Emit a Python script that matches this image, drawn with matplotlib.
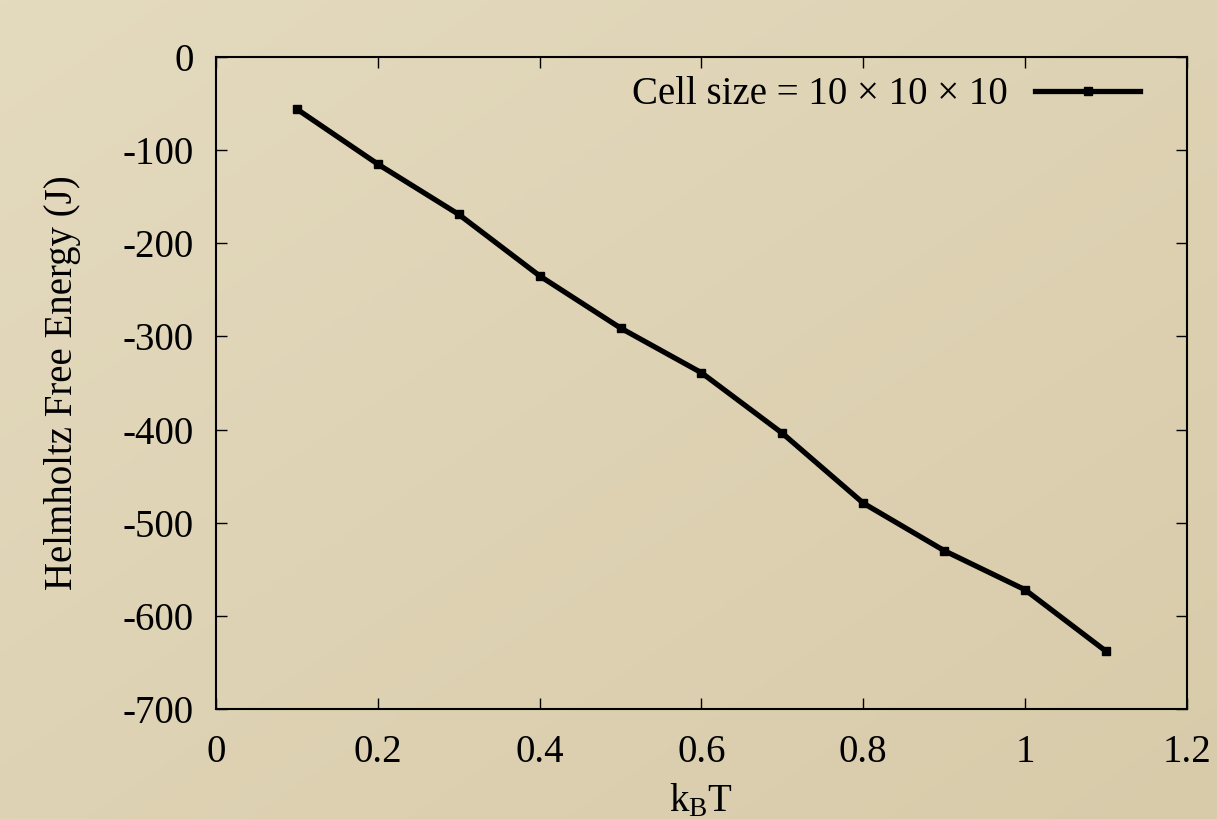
import matplotlib
matplotlib.use("Agg")
import matplotlib.pyplot as plt
import numpy as np

# data
kT = [0.1, 0.2, 0.3, 0.4, 0.5, 0.6, 0.7, 0.8, 0.9, 1.0, 1.1]
free_energy = [-56, -115, -169, -235, -291, -339, -404, -479, -530, -572, -638]
xticks = [0, 0.2, 0.4, 0.6, 0.8, 1, 1.2]
xtick_labels = ["0", "0.2", "0.4", "0.6", "0.8", "1", "1.2"]
yticks = [0, -100, -200, -300, -400, -500, -600, -700]
series_label = "Cell size = 10 \u00d7 10 \u00d7 10"

plt.rcParams["font.family"] = ["Liberation Serif", "DejaVu Serif"]
plt.rcParams["mathtext.fontset"] = "custom"
plt.rcParams["mathtext.rm"] = "Liberation Serif"
plt.rcParams["mathtext.it"] = "Liberation Serif"
plt.rcParams["axes.unicode_minus"] = False

fig = plt.figure(figsize=(12.17, 8.19), dpi=100)

# beige gradient background
bg = fig.add_axes([0, 0, 1, 1], zorder=-10)
grad = np.linspace(0, 1, 256)
gx, gy = np.meshgrid(grad, grad)
g = 0.5 * gx + 0.5 * gy
top = np.array([0xe4, 0xda, 0xbe]) / 255.0
bot = np.array([0xd8, 0xcb, 0xaa]) / 255.0
img = top[None, None, :] * (1 - g[..., None]) + bot[None, None, :] * g[..., None]
bg.imshow(img, aspect="auto", extent=[0, 1, 0, 1], origin="upper")
bg.axis("off")

ax = fig.add_axes([0.1775, 0.1343, 0.7978, 0.7961])
ax.patch.set_alpha(0)

ax.plot(kT, free_energy, color="black", lw=3.8, marker="s", ms=6,
        label=series_label)

ax.set_xlim(0, 1.2)
ax.set_ylim(-700, 0)
ax.set_xticks(xticks)
ax.set_xticklabels(xtick_labels)
ax.set_yticks(yticks)
ax.tick_params(direction="in", top=True, right=True, length=8, width=1,
               labelsize=28)
ax.tick_params(axis="x", pad=18)
ax.tick_params(axis="y", pad=16)
for s in ax.spines.values():
    s.set_linewidth(1.5)

ax.set_xlabel(r"k$_{\rm B}$T", fontsize=28, labelpad=8)
ax.set_ylabel("Helmholtz Free Energy (J)", fontsize=28, labelpad=30)

ax.legend(loc="upper right", frameon=False, fontsize=28, markerfirst=False,
          handlelength=2.7, borderaxespad=0.2, handletextpad=0.7,
          borderpad=0.3, bbox_to_anchor=(0.972, 1.0))

fig.savefig("out.png", dpi=100)
